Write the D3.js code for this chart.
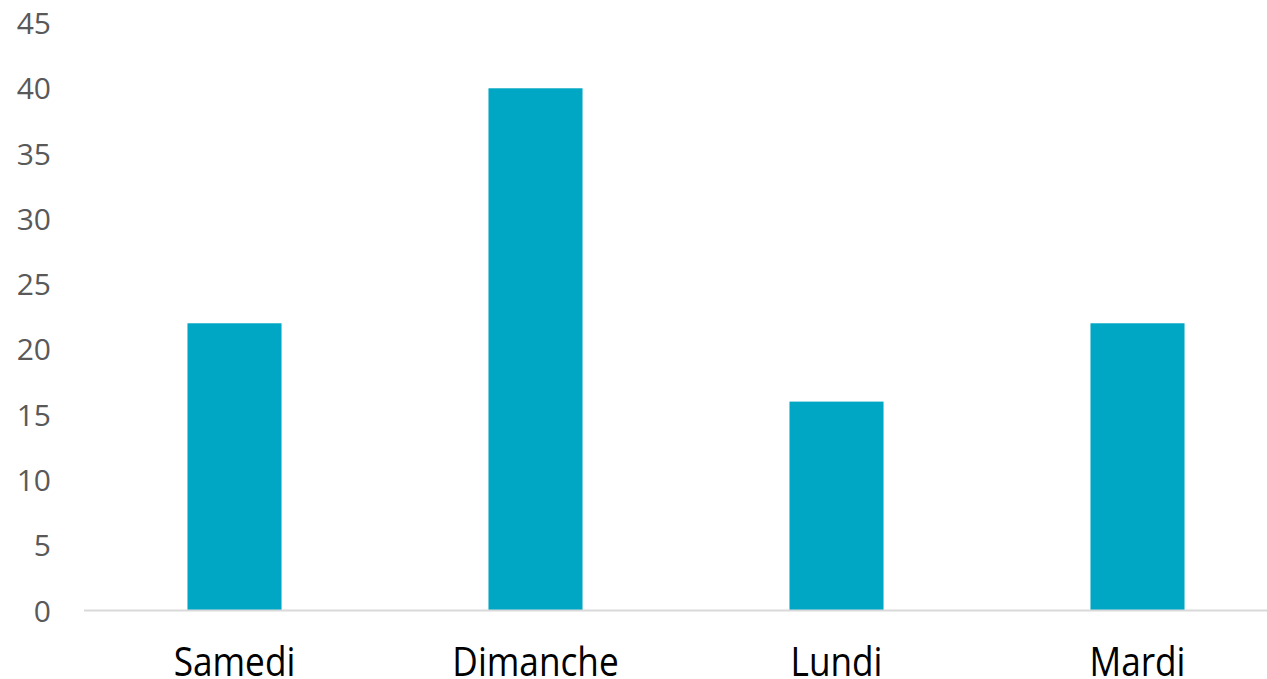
<!DOCTYPE html>
<html><head><meta charset="utf-8">
<script src="https://cdn.jsdelivr.net/npm/d3@7"></script>
<style>html,body{margin:0;padding:0;background:#fff;overflow:hidden}</style>
</head><body><svg id="c" width="1267" height="679"></svg>
<script>
const categories = ["Samedi", "Dimanche", "Lundi", "Mardi"];
const values = [22, 40, 16, 22];
const yTicks = [0, 5, 10, 15, 20, 25, 30, 35, 40, 45];

const svg = d3.select("#c");
const x = d3.scaleBand().domain(categories).range([84, 1288]).paddingInner(0.6875).paddingOuter(0.34375);
const y = d3.scaleLinear().domain([0, 45]).range([610.5, 23]);

svg.selectAll("rect.bar").data(values).enter().append("rect")
  .attr("class", "bar")
  .attr("x", (d, i) => x(categories[i]))
  .attr("width", x.bandwidth())
  .attr("y", d => y(d))
  .attr("height", d => y(0) - y(d))
  .attr("fill", "#00A7C4");

svg.append("line").attr("x1", 84).attr("x2", 1267).attr("y1", y(0)).attr("y2", y(0))
  .attr("stroke", "#d9d9d9").attr("stroke-width", 2);

svg.selectAll("text.yt").data(yTicks).enter().append("text")
  .attr("class", "yt").attr("x", 51).attr("y", d => y(d) + 11)
  .attr("text-anchor", "end").attr("font-family", "Open Sans").attr("font-size", 30)
  .attr("fill", "#595959").text(d => d);

svg.selectAll("text.xt").data(categories).enter().append("text")
  .attr("class", "xt")
  .attr("transform", d => `translate(${x(d) + x.bandwidth() / 2},676) scale(0.88,1)`)
  .attr("text-anchor", "middle").attr("font-family", "Open Sans").attr("font-size", 40)
  .attr("fill", "#000").text(d => d);
</script></body></html>
